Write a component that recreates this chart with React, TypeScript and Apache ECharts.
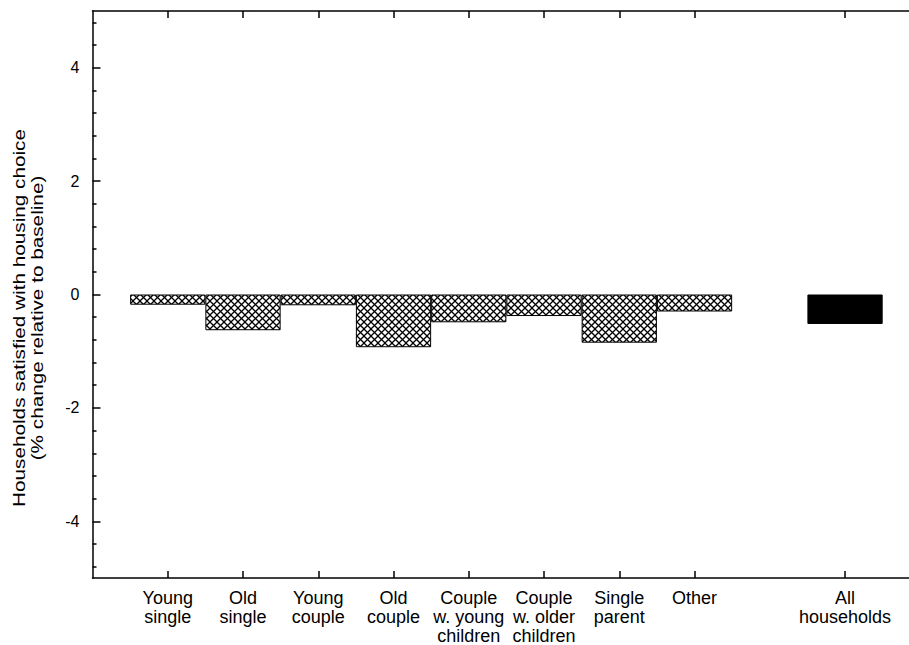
import React, { useEffect, useRef } from 'react';
import * as echarts from 'echarts';

const categories = [
  'Young\nsingle',
  'Old\nsingle',
  'Young\ncouple',
  'Old\ncouple',
  'Couple\nw. young\nchildren',
  'Couple\nw. older\nchildren',
  'Single\nparent',
  'Other',
];
const groupValues = [-0.18, -0.63, -0.19, -0.93, -0.49, -0.38, -0.85, -0.3];
const totalLabel = 'All\nhouseholds';
const totalValue = -0.52;
const yTickValues = [-4, -2, 0, 2, 4];
const yTitle = 'Households satisfied with housing choice\n(% change relative to baseline)';

function makeHatch(): HTMLCanvasElement {
  const s = 7;
  const c = document.createElement('canvas');
  c.width = s;
  c.height = s;
  const ctx = c.getContext('2d')!;
  ctx.fillStyle = '#fff';
  ctx.fillRect(0, 0, s, s);
  ctx.strokeStyle = '#000';
  ctx.lineWidth = 1.25;
  for (let k = -1; k <= 1; k++) {
    ctx.beginPath();
    ctx.moveTo(k * s, 0);
    ctx.lineTo(k * s + s, s);
    ctx.stroke();
    ctx.beginPath();
    ctx.moveTo(k * s, s);
    ctx.lineTo(k * s + s, 0);
    ctx.stroke();
  }
  return c;
}

export default function App() {
  const ref = useRef<HTMLDivElement>(null);
  useEffect(() => {
    if (!ref.current) return;
    const chart = echarts.init(ref.current, null, { renderer: 'svg' });
    const font = "'Liberation Sans', Arial, sans-serif";
    const positions = categories.map((_, i) => i + 1);
    const totalPos = categories.length + 2;
    const allPos = [...positions, totalPos];
    const labelMap: Record<number, string> = {};
    categories.forEach((c, i) => (labelMap[i + 1] = c));
    labelMap[totalPos] = totalLabel;
    const minorTicks: number[] = [];
    for (let v = -48; v <= 48; v += 4) {
      if (v % 20 !== 0) minorTicks.push(v / 10);
    }
    const hatch = makeHatch();
    const lineStyle = { color: '#000', width: 1.5 };
    const data: any[] = groupValues.map((v, i) => ({
      value: [positions[i], v],
      itemStyle: { color: { image: hatch, repeat: 'repeat' } },
    }));
    data.push({ value: [totalPos, totalValue], itemStyle: { color: '#000' } });
    const xMax = 10.85;

    chart.setOption({
      animation: false,
      grid: { left: 92.5, right: 0, top: 11, bottom: 66, containLabel: false },
      xAxis: [
        {
          type: 'value',
          position: 'bottom',
          min: 0,
          max: xMax,
          splitLine: { show: false },
          axisLine: { show: true, onZero: false, lineStyle },
          axisTick: { show: true, inside: true, length: 7, customValues: allPos, lineStyle },
          axisLabel: {
            show: true,
            customValues: allPos,
            formatter: (v: number) => labelMap[v] ?? '',
            fontFamily: font,
            fontSize: 18,
            lineHeight: 19,
            color: '#000',
            margin: 10,
            verticalAlign: 'top',
          },
        },
        {
          type: 'value',
          position: 'top',
          min: 0,
          max: xMax,
          splitLine: { show: false },
          axisLine: { show: true, onZero: false, lineStyle },
          axisTick: { show: true, inside: true, length: 7, customValues: allPos, lineStyle },
          axisLabel: { show: false },
        },
      ],
      yAxis: [
        {
          type: 'value',
          position: 'left',
          min: -5,
          max: 5,
          splitLine: { show: false },
          axisLine: { show: true, onZero: false, lineStyle },
          axisTick: { show: true, inside: true, length: 8, customValues: yTickValues, lineStyle },
          axisLabel: {
            show: true,
            customValues: yTickValues,
            fontFamily: font,
            fontSize: 16,
            color: '#000',
            margin: 13,
          },
        },
        {
          type: 'value',
          position: 'left',
          min: -5,
          max: 5,
          splitLine: { show: false },
          axisLine: { show: false, onZero: false },
          axisTick: { show: true, inside: true, length: 4, customValues: minorTicks, lineStyle },
          axisLabel: { show: false },
        },
      ],
      graphic: [
        {
          type: 'text',
          x: 28,
          y: 318,
          rotation: Math.PI / 2,
          scaleX: 1.22,
          style: {
            text: yTitle,
            fontFamily: font,
            fontSize: 17,
            lineHeight: 18,
            fill: '#000',
            textAlign: 'center',
            textVerticalAlign: 'middle',
          },
        },
      ],
      series: [
        {
          type: 'bar',
          xAxisIndex: 0,
          yAxisIndex: 0,
          barWidth: 75.25,
          data,
          itemStyle: { borderColor: '#000', borderWidth: 1 },
        },
      ],
    });
    return () => chart.dispose();
  }, []);
  return (
    <div
      ref={ref}
      style={{ position: 'fixed', left: 0, top: 0, width: 909, height: 645, background: '#fff' }}
    />
  );
}
